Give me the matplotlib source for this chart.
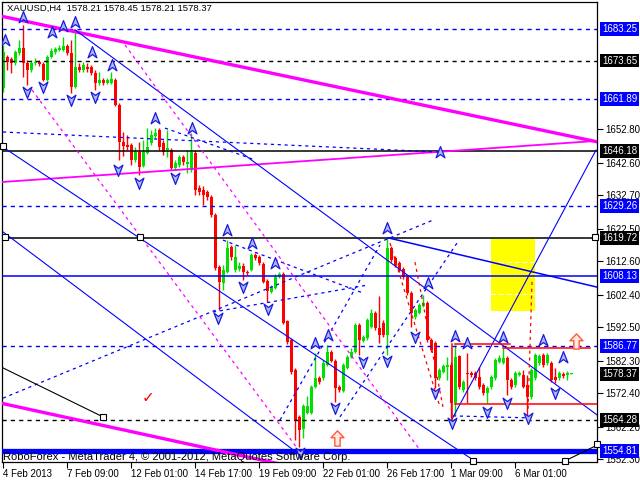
import matplotlib
matplotlib.use('Agg')
import matplotlib.pyplot as plt
from matplotlib.path import Path
from matplotlib.patches import Rectangle
import numpy as np

plt.rcParams['font.family'] = ['Liberation Sans', 'DejaVu Sans']

# ---------------- data ----------------
opens = [1665.3, 1674.7, 1674.1, 1672.9, 1676.0, 1677.5, 1672.9, 1670.8, 1672.9, 1673.2,
         1672.6, 1667.7, 1674.7, 1676.3, 1676.9, 1676.9, 1678.1, 1676.0, 1665.6, 1671.7,
         1670.8, 1671.7, 1671.7, 1669.9, 1666.8, 1667.7, 1666.8, 1666.8, 1667.7, 1660.1,
         1648.9, 1648.0, 1648.0, 1643.4, 1645.8, 1641.6, 1645.5, 1648.6, 1650.7, 1652.5,
         1648.6, 1646.4, 1646.4, 1640.9, 1641.9, 1644.3, 1642.2, 1640.3, 1645.5, 1634.9,
         1634.3, 1633.6, 1632.1, 1626.7, 1610.8, 1606.0, 1609.3, 1616.9, 1609.9, 1610.2,
         1611.1, 1609.3, 1609.9, 1614.5, 1613.9, 1611.7, 1606.6, 1603.2, 1604.4, 1607.8,
         1608.7, 1594.4, 1588.6, 1579.5, 1565.2, 1561.5, 1566.4, 1566.4, 1574.3, 1577.0,
         1577.0, 1581.0, 1584.9, 1582.2, 1574.3, 1573.1, 1580.1, 1583.4, 1584.9, 1593.2,
         1588.3, 1589.2, 1592.6, 1596.8, 1592.2, 1593.8, 1590.1, 1616.6, 1613.6, 1612.0,
         1610.2, 1607.8, 1602.9, 1595.6, 1596.8, 1598.9, 1599.9, 1588.6, 1587.7, 1577.0,
         1578.9, 1580.4, 1581.0, 1569.4, 1583.7, 1573.4, 1578.5, 1578.5, 1578.5, 1577.3,
         1574.9, 1572.5, 1574.3, 1577.0, 1581.9, 1581.6, 1583.1, 1576.4, 1574.9, 1577.9,
         1577.9, 1574.9, 1571.2, 1577.0, 1581.6, 1584.0, 1581.6, 1581.6, 1577.3, 1577.0,
         1578.2, 1577.9, 1578.21]
highs = [1678.4, 1675.3, 1674.7, 1676.9, 1679.9, 1684.5, 1673.8, 1673.8, 1674.4, 1673.8,
         1673.2, 1675.3, 1677.5, 1677.8, 1678.4, 1680.8, 1678.7, 1679.9, 1683.0, 1672.9,
         1673.2, 1672.9, 1672.3, 1670.8, 1670.2, 1668.3, 1668.3, 1670.2, 1668.3, 1660.7,
         1651.9, 1651.0, 1648.6, 1647.3, 1648.9, 1649.5, 1653.1, 1652.5, 1653.1, 1653.1,
         1649.5, 1652.5, 1647.0, 1643.4, 1644.9, 1644.9, 1646.4, 1651.6, 1646.4, 1635.8,
         1635.5, 1634.3, 1632.7, 1627.3, 1611.4, 1611.4, 1619.0, 1617.5, 1617.5, 1612.3,
         1612.0, 1609.9, 1615.1, 1615.1, 1614.5, 1612.3, 1607.2, 1605.3, 1608.7, 1609.3,
         1609.3, 1594.7, 1589.2, 1580.1, 1565.8, 1569.1, 1571.5, 1574.9, 1584.6, 1577.7,
         1582.5, 1587.1, 1585.6, 1582.8, 1574.9, 1581.6, 1584.0, 1586.2, 1593.8, 1593.8,
         1590.1, 1595.3, 1598.0, 1597.4, 1602.0, 1594.7, 1619.7, 1617.2, 1614.2, 1612.6,
         1610.8, 1608.4, 1603.5, 1598.3, 1599.9, 1602.3, 1600.5, 1589.2, 1588.3, 1580.1,
         1581.3, 1583.4, 1581.9, 1587.1, 1584.0, 1576.4, 1584.6, 1579.2, 1579.2, 1580.4,
         1575.5, 1574.6, 1578.0, 1583.1, 1584.0, 1586.2, 1583.7, 1577.0, 1579.2, 1579.2,
         1579.5, 1577.9, 1580.1, 1584.6, 1584.3, 1584.6, 1584.6, 1582.2, 1580.1, 1579.2,
         1578.9, 1579.2, 1578.45]
lows = [1664.1, 1670.8, 1669.9, 1672.3, 1675.3, 1668.6, 1666.2, 1670.2, 1672.3, 1672.0,
        1667.4, 1667.4, 1674.4, 1675.6, 1676.6, 1676.6, 1675.3, 1663.8, 1665.3, 1670.2,
        1670.2, 1670.2, 1669.2, 1664.7, 1666.2, 1666.2, 1666.5, 1666.5, 1659.8, 1643.4,
        1644.6, 1646.4, 1641.9, 1642.8, 1638.8, 1641.3, 1645.2, 1648.0, 1650.1, 1646.4,
        1644.9, 1644.3, 1640.3, 1640.3, 1641.3, 1641.9, 1639.4, 1639.7, 1632.7, 1632.7,
        1629.7, 1631.2, 1626.0, 1609.9, 1597.7, 1603.8, 1609.0, 1613.0, 1609.3, 1609.6,
        1606.9, 1608.4, 1609.6, 1613.0, 1611.4, 1606.0, 1600.2, 1602.9, 1604.1, 1607.5,
        1593.5, 1587.4, 1578.2, 1558.2, 1556.1, 1558.8, 1566.1, 1566.1, 1574.0, 1575.2,
        1576.4, 1580.7, 1581.9, 1569.7, 1572.8, 1572.8, 1579.8, 1583.1, 1584.6, 1584.0,
        1588.0, 1588.6, 1592.3, 1591.6, 1587.7, 1589.5, 1584.0, 1612.3, 1610.8, 1609.3,
        1607.2, 1602.3, 1592.6, 1595.0, 1596.5, 1598.6, 1588.0, 1584.9, 1574.0, 1576.4,
        1578.5, 1576.4, 1564.9, 1565.8, 1573.7, 1572.8, 1569.4, 1577.3, 1576.4, 1573.7,
        1571.9, 1569.4, 1573.7, 1576.4, 1581.6, 1581.3, 1571.9, 1573.7, 1574.3, 1577.6,
        1574.0, 1565.2, 1570.6, 1576.4, 1581.0, 1580.4, 1581.0, 1575.8, 1575.5, 1576.4,
        1577.0, 1576.4, 1578.21]
closes = [1676.3, 1673.2, 1672.9, 1676.3, 1677.5, 1672.9, 1670.8, 1672.9, 1673.2, 1672.6,
          1667.7, 1674.7, 1676.6, 1677.2, 1677.5, 1678.1, 1676.0, 1665.6, 1671.7, 1670.8,
          1672.3, 1671.1, 1669.9, 1666.8, 1667.7, 1666.8, 1667.7, 1668.0, 1660.1, 1648.9,
          1647.6, 1647.3, 1643.4, 1645.8, 1641.3, 1645.8, 1647.3, 1651.0, 1651.6, 1647.3,
          1645.8, 1647.0, 1640.9, 1642.5, 1644.3, 1642.8, 1642.8, 1645.8, 1634.3, 1633.6,
          1632.7, 1632.1, 1626.7, 1610.5, 1606.3, 1609.9, 1616.6, 1613.9, 1613.9, 1611.1,
          1609.3, 1609.0, 1614.5, 1613.6, 1612.0, 1606.3, 1603.5, 1604.7, 1607.8, 1608.7,
          1593.8, 1588.0, 1578.9, 1564.3, 1561.2, 1568.5, 1568.5, 1574.3, 1577.0, 1575.8,
          1581.6, 1584.9, 1582.2, 1574.0, 1573.4, 1581.0, 1583.4, 1584.9, 1593.2, 1588.6,
          1589.5, 1594.7, 1596.8, 1592.2, 1590.1, 1590.1, 1616.6, 1612.9, 1611.4, 1609.9,
          1607.8, 1602.9, 1596.8, 1597.7, 1599.2, 1599.9, 1588.6, 1585.6, 1577.0, 1579.5,
          1580.7, 1581.0, 1569.4, 1583.4, 1574.3, 1575.8, 1578.2, 1577.9, 1577.0, 1574.3,
          1572.5, 1574.0, 1577.3, 1582.5, 1583.1, 1583.1, 1576.4, 1574.3, 1578.5, 1578.5,
          1574.3, 1571.2, 1579.5, 1584.0, 1583.7, 1581.0, 1584.0, 1576.4, 1576.4, 1578.5,
          1577.6, 1578.5, 1578.37]

time_tick_bars = [0, 16, 32, 48, 64, 80, 96, 112, 128]
time_tick_labels = ['4 Feb 2013', '7 Feb 09:00', '12 Feb 01:00', '14 Feb 17:00', '19 Feb 09:00',
                    '22 Feb 01:00', '26 Feb 17:00', '1 Mar 09:00', '6 Mar 01:00']
price_ticks = [1552.30, 1562.20, 1572.40, 1582.30, 1592.50, 1602.40, 1612.60, 1622.50,
               1632.70, 1642.60, 1652.80]

# horizontal levels
levels_blue_dashed = [1683.25, 1661.89, 1629.26, 1586.77]
levels_black_dashed = [1673.65, 1564.28]
levels_black_solid = [1646.18, 1619.72]
level_blue_solid = 1608.13
level_blue_thick = 1554.81
current_price = 1578.37

# trend lines (bar index, price)
magenta_thick_1 = ([-1, 149], [1687.3, 1648.8])
magenta_thick_2 = ([-1, 80], [1569.5, 1548.0])
magenta_thin = ([0, 148.5], [1636.7, 1649.2])
blue_solid_lines = [([18, 148.5], [1683.0, 1565.8]),
                    ([0, 120], [1647.3, 1550.1]),
                    ([0, 74.25], [1621.5, 1553.6]),
                    ([112.25, 148.25], [1564.5, 1646.4])]
blue_solid_peak = ([96.25, 148.5], [1619.7, 1604.7])
blue_dashed_lines = [([0, 109.25], [1651.9, 1645.8]),
                     ([40.5, 63], [1653.1, 1643.4]),
                     ([0, 107.5], [1570.9, 1625.1]),
                     ([52.5, 91], [1597.1, 1605.3]),
                     ([55, 90], [1619.0, 1602.9]),
                     ([69.25, 94.25], [1564.25, 1617.5]),
                     ([84.25, 113.5], [1565.2, 1618.1]),
                     ([112.5, 131.75], [1565.5, 1564.9])]
magenta_dotted = [([7.25, 74.25], [1664.7, 1554.5]),
                  ([30.5, 104.25], [1678.4, 1555.1])]
red_dotted = [([96.75, 109.25], [1618.1, 1568.2]),
              ([103, 110], [1612.3, 1568.2]),
              ([132.25, 131.25], [1606.3, 1567.3])]
red_solid = [([113, 126.75], [1587.3, 1587.3]),
             ([125, 146.75], [1586.2, 1586.2]),
             ([113, 148.5], [1569.1, 1569.1]),
             ([112.25, 112.25], [1587.3, 1564.3])]
black_thin_lines = [([0, 25], [1580.1, 1565.2]),
                    ([140.5, 148.5], [1551.8, 1556.6])]
squares_x = [0, 0.5, 34.25, 148, 25, 117.5, 140.5, 148.5]
squares_y = [1647.6, 1619.9, 1619.9, 1619.9, 1565.2, 1551.8, 1551.8, 1556.8]

up_arrows_x = [5, 0.5, 12.25, 15, 18, 22.25, 27.25, 38, 47.25, 56, 62.25, 68, 78, 81.25,
               96, 106.25, 113, 116, 125, 135, 140, 109.25]
up_arrows_y = [1686.9, 1679.9, 1682.3, 1684.2, 1685.4, 1676.3, 1672.3, 1656.2, 1653.1, 1622.1,
               1618.1, 1612.0, 1587.7, 1590.1, 1622.7, 1605.9, 1589.8, 1587.7, 1589.5, 1588.6,
               1583.4, 1645.8]
down_arrows_x = [6, 10, 17, 23, 28.75, 34, 43, 53.75, 60, 66.25, 74.25, 83, 90, 96, 103,
                 108, 112.25, 121, 126, 131.25, 138]
down_arrows_y = [1664.1, 1665.6, 1661.6, 1662.6, 1640.3, 1636.4, 1637.9, 1595.3, 1604.7, 1598.0,
                 1554.2, 1567.9, 1581.9, 1582.2, 1589.5, 1572.5, 1563.3, 1566.7, 1569.4, 1564.9,
                 1572.5]
orange_arrows_x = [83.5, 143.25]
orange_arrows_y = [1558.8, 1588.3]
check_x, check_y = 36.25, 1571.2
target_box = (122, 133, 1597.4, 1619.3)
target_box_inner = [1612.3, 1602.6]

title = 'XAUUSD,H4  1578.21 1578.45 1578.21 1578.37'
copyright_text = 'RoboForex - MetaTrader 4, \u00a9 2001-2012, MetaQuotes Software Corp.'

# ---------------- figure ----------------
fig = plt.figure(figsize=(6.4, 4.8), dpi=100)
fig.patch.set_facecolor('white')
ax = fig.add_axes([2 / 640, 18 / 480, 595 / 640, 460 / 480])
ax.set_xlim(-0.25, 148.5)
ax.set_ylim(1551.47, 1691.47)
ax.set_facecolor('white')

BLUE = '#0000ff'
MAG = '#ff00ff'

# yellow target box
x0, x1, y0, y1 = target_box
ax.add_patch(Rectangle((x0, y0), x1 - x0, y1 - y0, facecolor='#ffff00', edgecolor='none', zorder=1))
for yy in target_box_inner:
    ax.plot([x0, x1], [yy, yy], color='white', lw=0.8, ls=(0, (4, 3)), zorder=1.1)

# candles
o = np.array(opens); h = np.array(highs); l = np.array(lows); c = np.array(closes)
idx = np.arange(len(c))
cols = np.where(c >= o, '#00e000', '#ff0000')
ax.vlines(idx, l, h, colors=cols, lw=1, zorder=2)
ax.bar(idx, np.maximum(np.abs(c - o), 0.35), bottom=np.minimum(o, c), width=0.75,
       color=cols, linewidth=0, zorder=2.1)

# horizontal levels
for v in levels_blue_dashed:
    ax.axhline(v, color=BLUE, lw=1, ls=(0, (3, 3)), zorder=3)
for v in levels_black_dashed:
    ax.axhline(v, color='black', lw=1, ls=(0, (3, 3)), zorder=3)
for v in levels_black_solid:
    ax.axhline(v, color='black', lw=1.1, zorder=3)
ax.axhline(level_blue_solid, color=BLUE, lw=1.1, zorder=3)
ax.axhline(level_blue_thick, color=BLUE, lw=3.8, zorder=3)

# trend lines
ax.plot(*magenta_thick_1, color=MAG, lw=2.4, zorder=3)
ax.plot(*magenta_thick_2, color=MAG, lw=2.4, zorder=3)
ax.plot(*magenta_thin, color=MAG, lw=1.3, zorder=3)
for xs, ys in blue_solid_lines:
    ax.plot(xs, ys, color=BLUE, lw=0.8, zorder=3)
ax.plot(*blue_solid_peak, color=BLUE, lw=1.1, zorder=3)
for xs, ys in blue_dashed_lines:
    ax.plot(xs, ys, color=BLUE, lw=0.9, ls=(0, (2.5, 3)), zorder=3)
for xs, ys in magenta_dotted:
    ax.plot(xs, ys, color=MAG, lw=0.9, ls=(0, (2.5, 3)), zorder=3)
for xs, ys in red_dotted:
    ax.plot(xs, ys, color='#ff0000', lw=0.9, ls=(0, (2.5, 3)), zorder=3)
for xs, ys in red_solid:
    ax.plot(xs, ys, color='#ff0000', lw=1.1, zorder=3)
for xs, ys in black_thin_lines:
    ax.plot(xs, ys, color='black', lw=0.8, zorder=3)
ax.plot(squares_x, squares_y, ls='none', marker='s', ms=4, mfc='white', mec='black',
        mew=0.8, zorder=4, clip_on=False)

# arrow markers
up_v = [(0, 1), (0.75, -0.9), (0, -0.35), (-0.75, -0.9), (0, 1)]
codes = [Path.MOVETO, Path.LINETO, Path.LINETO, Path.LINETO, Path.CLOSEPOLY]
up_marker = Path(up_v, codes)
down_marker = Path([(x, -y) for x, y in up_v], codes)
ax.plot(up_arrows_x, up_arrows_y, ls='none', marker=up_marker, ms=8.5, mfc='#aab8ff',
        mec='#1a1ad8', mew=0.9, zorder=5)
ax.plot(down_arrows_x, down_arrows_y, ls='none', marker=down_marker, ms=8.5, mfc='#aab8ff',
        mec='#1a1ad8', mew=0.9, zorder=5)
blk_v = [(0, 1), (0.85, 0.1), (0.35, 0.1), (0.35, -1), (-0.35, -1), (-0.35, 0.1), (-0.85, 0.1), (0, 1)]
blk_c = [Path.MOVETO] + [Path.LINETO] * 6 + [Path.CLOSEPOLY]
ax.plot(orange_arrows_x, orange_arrows_y, ls='none', marker=Path(blk_v, blk_c), ms=11,
        mfc='#ffe8e0', mec='#ff5a3c', mew=1.0, zorder=5)
ax.text(check_x, check_y, '\u2713', color='#ff0000', fontsize=11, ha='center', va='center',
        family=['DejaVu Sans'], zorder=5)

# axes styling
for s in ax.spines.values():
    s.set_linewidth(0.9)
    s.set_color('black')
ax.yaxis.tick_right()
ax.set_yticks(price_ticks)
ax.set_yticklabels([f'{v:.2f}' for v in price_ticks])
ax.set_xticks(time_tick_bars)
ax.set_xticklabels(time_tick_labels)
for t in ax.get_xticklabels():
    t.set_horizontalalignment('left')
ax.tick_params(axis='y', direction='out', length=4, width=0.8, pad=2, labelsize=7)
ax.tick_params(axis='x', direction='out', length=4, width=0.8, pad=1, labelsize=7)

# price labels on right axis
box_labels = [(1683.25, BLUE), (1673.65, 'black'), (1661.89, BLUE), (1646.18, 'black'),
              (1629.26, BLUE), (1619.72, 'black'), (1608.13, BLUE), (1586.77, BLUE),
              (current_price, 'black'), (1564.28, 'black'), (1554.81, BLUE)]
for v, col in box_labels:
    ax.text(1 + 5 / 595, v, f'{v:.2f}', transform=ax.get_yaxis_transform(), va='center',
            ha='left', color='white', fontsize=7, zorder=10, clip_on=False,
            bbox=dict(boxstyle='square,pad=0.2', fc=col, ec='none'))

ax.text(5 / 595, 1 - 2 / 460, title, transform=ax.transAxes, va='top', ha='left',
        fontsize=6.8, color='black', zorder=10)
ax.text(1 / 595, 0.5 / 460, copyright_text, transform=ax.transAxes, va='bottom', ha='left',
        fontsize=8, color='black', zorder=10)

fig.savefig('out.png', dpi=100, facecolor='white')
